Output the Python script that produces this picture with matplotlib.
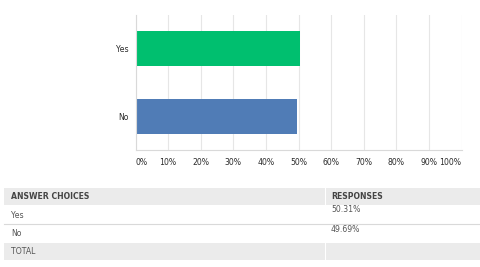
import matplotlib.pyplot as plt
from matplotlib.patches import Rectangle

categories = ["No", "Yes"]
values = [49.69, 50.31]
bar_colors = ["#507cb6", "#00bf6f"]
xticks = list(range(0, 101, 10))
table_header = ["ANSWER CHOICES", "RESPONSES"]
table_rows = [("Yes", "50.31%"), ("No", "49.69%"), ("TOTAL", "")]

W, H = 480, 267
fig = plt.figure(figsize=(W / 100, H / 100), dpi=100)


def fx(px):
    return px / W


def fy(py):
    return 1 - py / H


# chart area
ax = fig.add_axes([fx(135.5), fy(150), fx(461.5) - fx(135.5), fy(15) - fy(150)])
ax.barh(categories, values, height=0.515, color=bar_colors)
ax.set_xlim(0, 100)
ax.set_ylim(-0.495, 1.49)
ax.set_xticks(xticks)
ax.set_xticklabels([f"{t}%" for t in xticks], fontsize=5.6, color="#2b2b2b")
xt = ax.get_xticklabels()
xt[0].set_horizontalalignment("left")
xt[-1].set_horizontalalignment("right")
ax.tick_params(axis="x", length=0, pad=6)
ax.tick_params(axis="y", length=0, pad=5, labelsize=5.6, labelcolor="#2b2b2b")
ax.grid(axis="x", color="#e6e6e6", linewidth=0.8)
ax.set_axisbelow(True)
for s in ["top", "right"]:
    ax.spines[s].set_visible(False)
ax.spines["left"].set_color("#d9d9d9")
ax.spines["bottom"].set_color("#d9d9d9")
ax.spines["left"].set_linewidth(0.8)
ax.spines["bottom"].set_linewidth(0.8)

# table below
x0, x1, xmid = 4, 480, 325
row_edges = [188, 205, 224, 243, 260]


def cell(xa, xb, ya, yb, color):
    fig.add_artist(Rectangle((fx(xa), fy(yb)), fx(xb) - fx(xa), fy(ya) - fy(yb),
                             facecolor=color, edgecolor="none", transform=fig.transFigure))


cell(x0, xmid, row_edges[0], row_edges[1], "#ebebeb")
cell(xmid + 1, x1, row_edges[0], row_edges[1], "#ebebeb")
cell(x0, xmid, row_edges[3], row_edges[4], "#ebebeb")
cell(xmid + 1, x1, row_edges[3], row_edges[4], "#ebebeb")
fig.add_artist(plt.Line2D([fx(x0), fx(x1)], [fy(224), fy(224)], color="#d9d9d9",
                          linewidth=0.8, transform=fig.transFigure))

fig.text(fx(11), fy(196.5), table_header[0], fontsize=5.6, fontweight="bold",
         color="#444444", va="center")
fig.text(fx(331), fy(196.5), table_header[1], fontsize=5.6, fontweight="bold",
         color="#444444", va="center")
label_y = [215, 234, 251.5]
value_y = [210, 229, 251.5]
for (lab, val), ly, vy in zip(table_rows, label_y, value_y):
    fig.text(fx(11), fy(ly), lab, fontsize=5.6, color="#555555", va="center")
    if val:
        fig.text(fx(331), fy(vy), val, fontsize=5.6, color="#555555", va="center")

fig.savefig("out.png", dpi=100)
